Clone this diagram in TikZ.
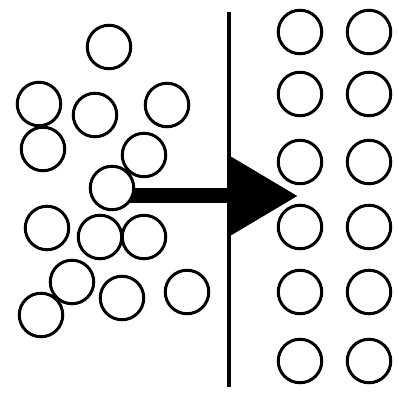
\documentclass[tikz,border=0pt]{standalone}
\usetikzlibrary{arrows.meta,backgrounds}
\begin{document}
\begin{tikzpicture}
		[x=1pt, y=-1pt,
		particle/.style={circle,draw,line width=3pt,inner sep=0pt,minimum size=43.5pt},
		wall/.style={line width=3.5pt},
		push/.style={line width=15pt,-{Triangle[length=70pt,width=78pt]}}]
		\useasboundingbox (0,0) rectangle (399,395);
		% disordered particles
		\foreach \name/\px/\py in {p1/109/47, p2/39/104, p3/95/115, p4/167/105,
			p5/43/149, p6/144/155, p8/47/228, p9/100/237, p10/144/237,
			p11/72/282, p12/122/298, p13/187/292, p14/41/315}
			\node[particle] (\name) at (\px,\py) {};
		\node[particle,fill=white] (p7) at (112,188) {};
		% wall
		\coordinate (wtop) at (229,12);
		\coordinate (wbot) at (229,387);
		\draw[wall] (wtop) -- (wbot);
		% ordered particles
		\foreach \c/\cx in {1/300, 2/369}
			\foreach \r/\ry in {1/32, 2/94, 3/162, 4/227, 5/292, 6/361}
				\node[particle] (q\c\r) at (\cx,\ry) {};
		% arrow
		\coordinate (tip) at (298,196);
		\begin{scope}[on background layer]
			\draw[push] (p7.center |- tip) -- (tip);
		\end{scope}
\end{tikzpicture}
\end{document}
